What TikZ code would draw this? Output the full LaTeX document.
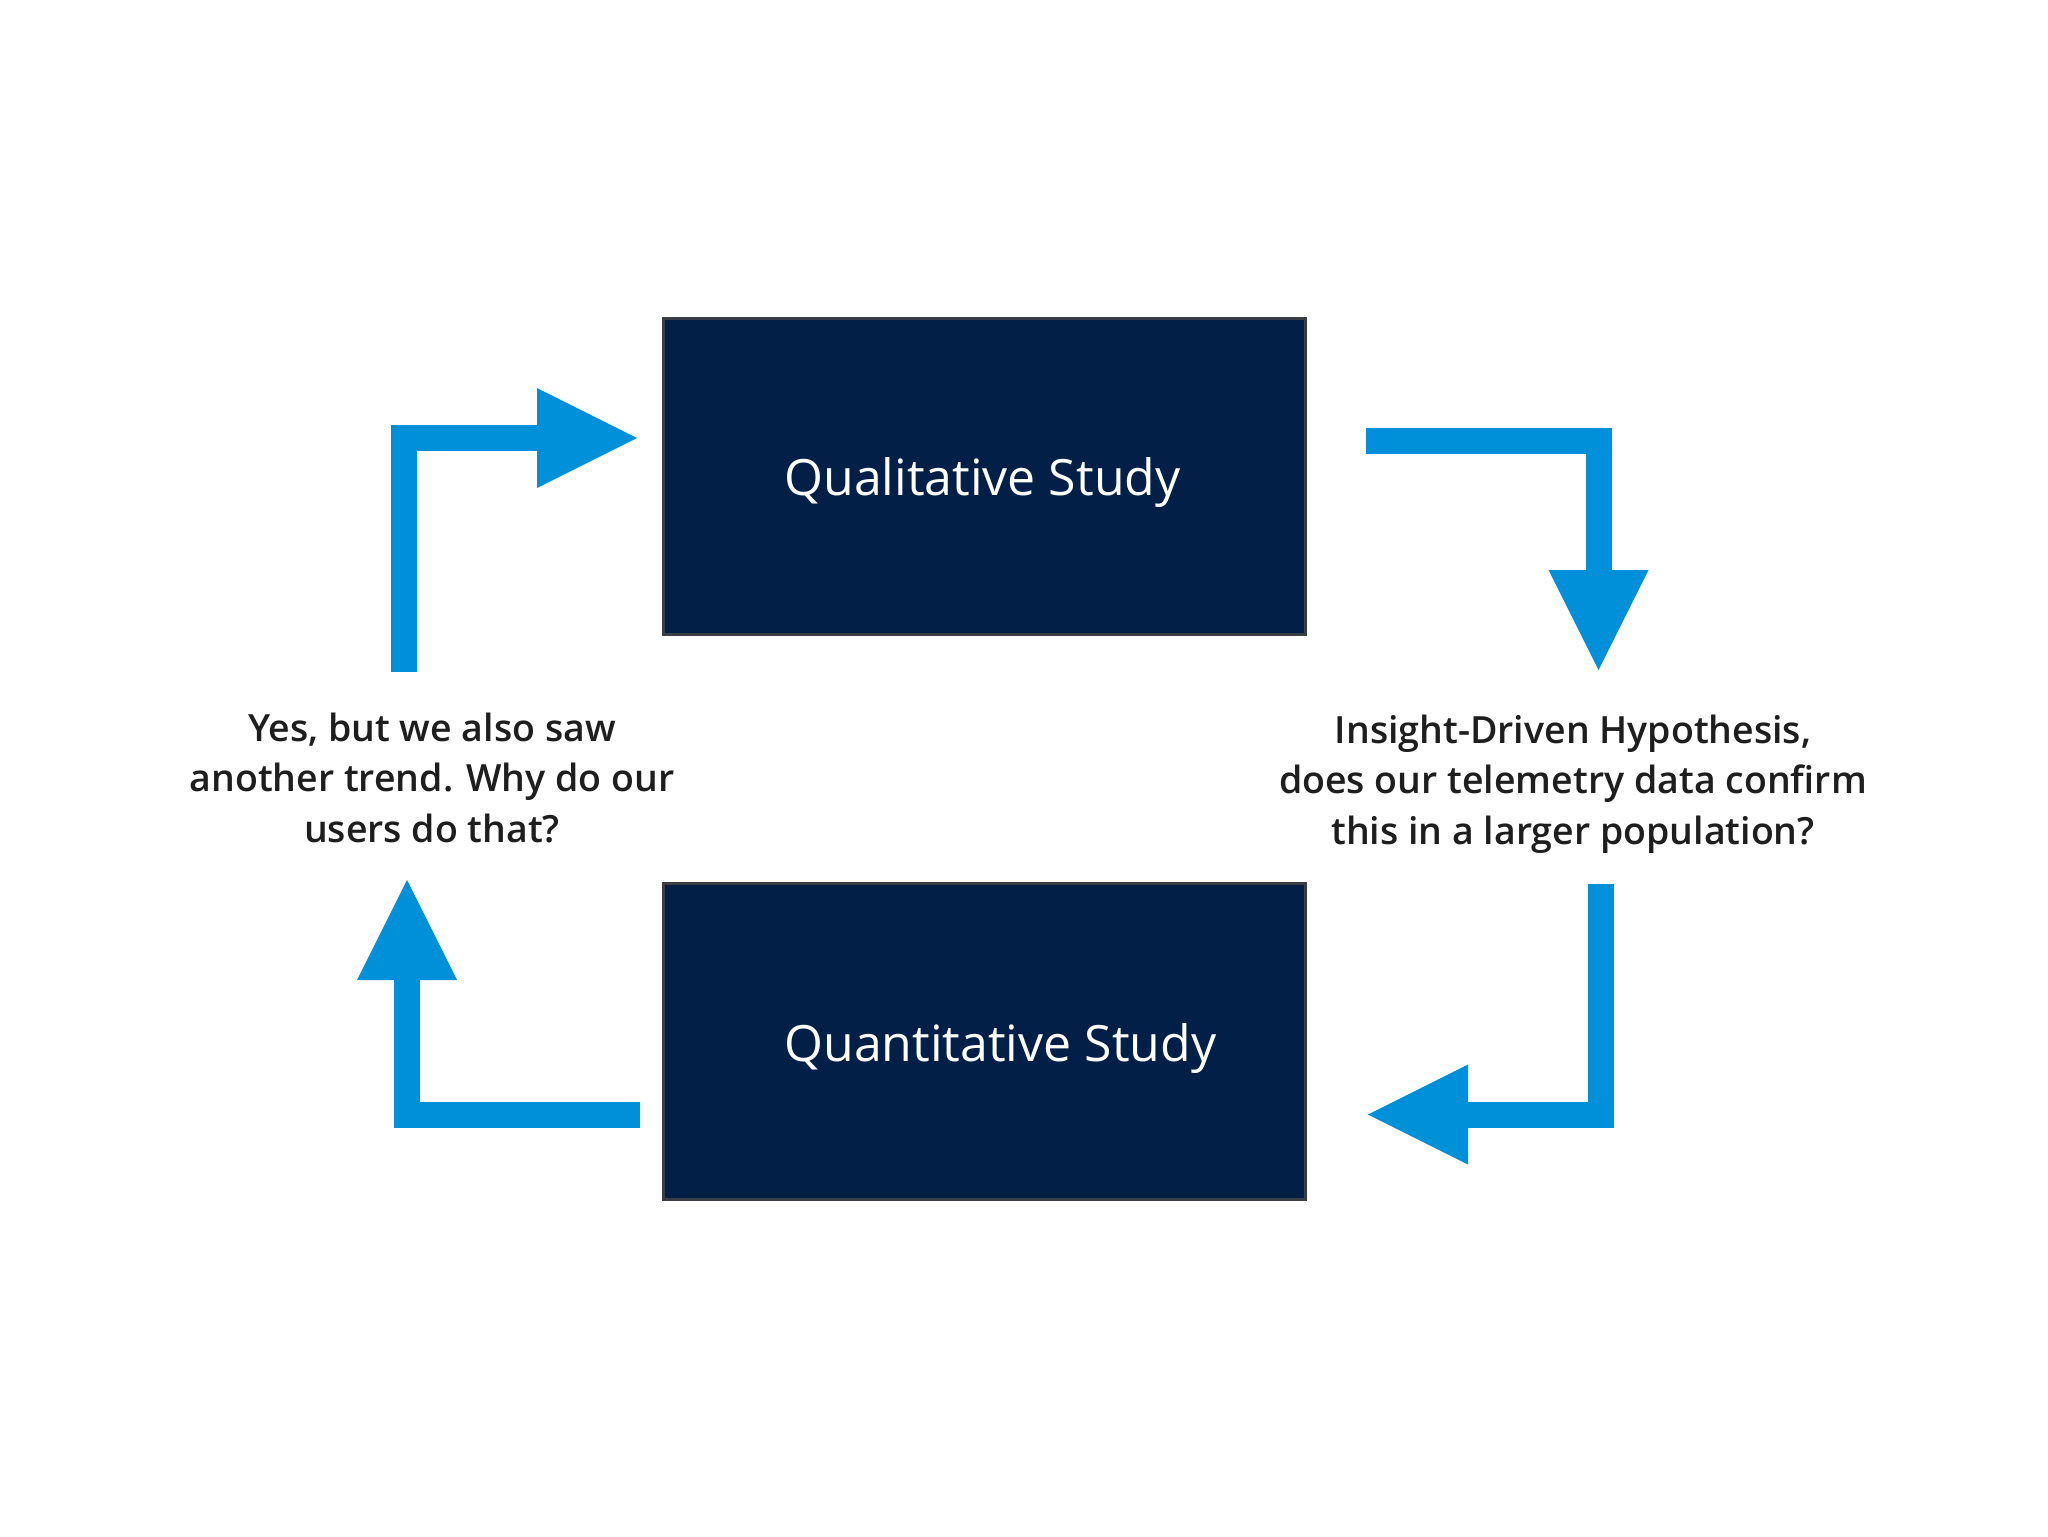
\documentclass[tikz,border=0pt]{standalone}
\usepackage{fontspec}
\setmainfont{Open Sans}[BoldFont={Open Sans Semibold}]
\usetikzlibrary{arrows.meta}
\definecolor{flowblue}{RGB}{0,144,218}
\definecolor{navy}{RGB}{2,31,72}
\definecolor{boxline}{RGB}{58,62,68}
\definecolor{labeltext}{RGB}{30,30,30}
\tikzset{
  studybox/.style={draw=boxline, line width=1.5pt, fill=navy, minimum width=321pt, minimum height=158pt, inner sep=0pt},
  studytext/.style={text=white, font=\fontsize{25}{30}\selectfont, inner sep=0pt, anchor=base west},
  question/.style={text=labeltext, font=\bfseries\fontsize{18.75}{25.3}\selectfont, align=center, inner sep=0pt},
  flow/.style={draw=flowblue, line width=13pt, line join=miter, line cap=butt, -{Triangle[length=50pt,width=50pt,line width=0pt]}}
}
\begin{document}
\begin{tikzpicture}[x=0.5pt,y=-0.5pt]
\fill[white] (0,0) rectangle (2048,1536);
\useasboundingbox (0,0) rectangle (2048,1536);
% boxes
\node[studybox] (qual) at (984,476) {};
\node[studybox] (quant) at (984,1041.5) {};
\node[studytext] (qualtxt) at (784,495.5) {Qualitative Study};
\node[studytext] (quanttxt) at (784,1061) {Quantitative Study};
% questions
\node[question] (left) at (432,778) {Yes, but we also saw\\another trend. Why do our\\users do that?};
\node[question] (right) at (1573,784) {Insight-Driven Hypothesis,\\does our telemetry data confirm\\this in a larger population?};
% arrow end points
\coordinate (a1s) at (403.5,672);
\coordinate (a1e) at (637,438);
\coordinate (a2s) at (1366,440.5);
\coordinate (a2e) at (1598.5,670);
\coordinate (a3s) at (1600.5,884);
\coordinate (a3e) at (1368,1114.5);
\coordinate (a4s) at (640,1115);
\coordinate (a4e) at (407,880);
\draw[flow] (a1s) |- (a1e);
\draw[flow] (a2s) -| (a2e);
\draw[flow] (a3s) |- (a3e);
\draw[flow] (a4s) -| (a4e);
\end{tikzpicture}
\end{document}
